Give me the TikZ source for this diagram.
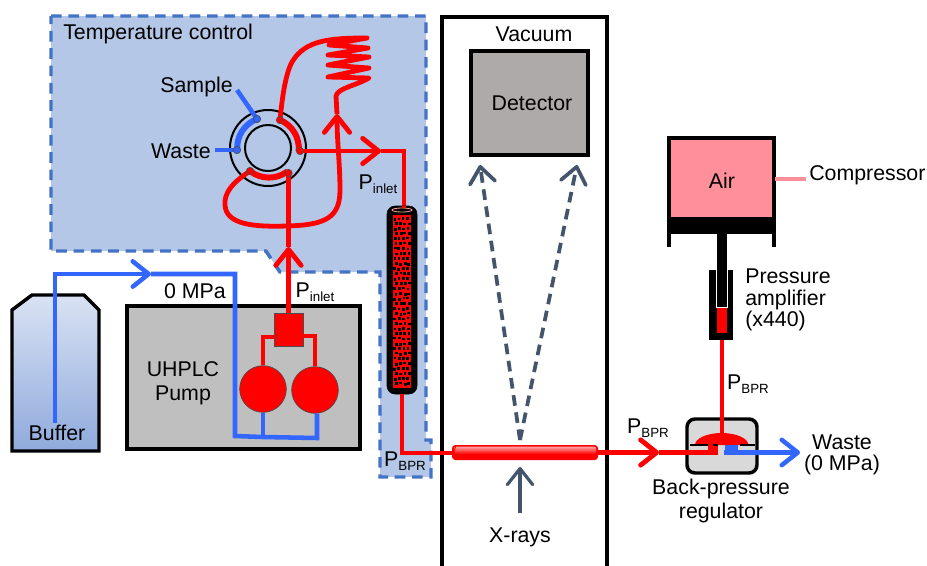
\documentclass[tikz,border=0pt]{standalone}
\usepackage{fontspec}
\setmainfont{Liberation Sans}
\usetikzlibrary{calc,arrows.meta}
\definecolor{zonefill}{HTML}{B4C7E7}
\definecolor{zoneline}{HTML}{4472C4}
\definecolor{pipeblue}{HTML}{3366FF}
\definecolor{slatearrow}{HTML}{44546A}
\definecolor{airpink}{HTML}{FF8F98}
\definecolor{bottlelight}{HTML}{D9E2F3}
\definecolor{bottledark}{HTML}{8FAADC}
\definecolor{detectorgray}{HTML}{AEAAAA}
\tikzset{
	>=latex,
	label/.style={font=\fontsize{16}{18.5}\selectfont,align=center,inner sep=0pt},
	redpipe/.style={red,line width=3.6pt},
	bluepipe/.style={pipeblue,line width=3.4pt},
	thinred/.style={red,line width=2.8pt},
	barb/.style={-{Straight Barb[length=12pt,width=19pt,round]}},
	port/.style={circle,inner sep=0pt,minimum size=5.5pt,draw=black!70,line width=.5pt},
	box/.style={draw=black,line width=2.6pt},
	raydash/.style={slatearrow,line width=2.8pt,dash pattern=on 8pt off 5pt}
}
\newcommand{\psub}[1]{P{\fontsize{10}{10}\selectfont\raisebox{-3pt}{#1}}}
\begin{document}
\begin{tikzpicture}[x=0.75pt,y=-0.75pt]
	\useasboundingbox (0,0) rectangle (927,565);
	
	% temperature control zone
	\draw[fill=zonefill,draw=zoneline,line width=2.6pt,dash pattern=on 8pt off 5pt]
	(51,16) -- (426,16) -- (426,440) -- (431,440) -- (431,477) -- (380,477)
	-- (380,272) -- (280,272) -- (266,251) -- (51,251) -- cycle;
	\node[label,anchor=west] (zonelabel) at (63,34) {Temperature control};
	
	% vacuum chamber
	\draw[black,line width=2.8pt] (442,575) -- (442,17) -- (607,17) -- (607,575);
	\draw[box,fill=detectorgray] (471,51) rectangle (588,155);
	\node[label] (detector) at (532,103) {Detector};
	\node[label] (vacuum) at (534,34) {Vacuum};
	
	% buffer bottle
	\shade[top color=bottlelight,middle color=bottlelight,bottom color=bottledark]
	(12,451) -- (12,310) -- (32,295) -- (84,295) -- (99,310) -- (99,451) -- cycle;
	\draw[box] (12,451) -- (12,310) -- (32,295) -- (84,295) -- (99,310) -- (99,451) -- cycle;
	
	% pump housing
	\draw[box,fill=black!25] (127,306) rectangle (360,449);
	\node[label,text depth=0pt] (pumplabel) at (183,381) {UHPLC\\Pump};
	
	% named points of the flow path
	\coordinate (bufferin) at (55,423);
	\coordinate (bufferup) at (55,274);
	\coordinate (buffertip) at (151,274);
	\coordinate (buffercorner) at (235,274);
	\coordinate (manifoldL) at (235,436);
	\coordinate (manifoldM) at (263,437);
	\coordinate (manifoldR) at (317,438);
	\node[circle,fill=red,draw=black!70,line width=.5pt,minimum size=35pt,inner sep=0pt] (pumpL) at (263,389) {};
	\node[circle,fill=red,draw=black!70,line width=.5pt,minimum size=35pt,inner sep=0pt] (pumpR) at (315,390) {};
	\node[rectangle,fill=red,draw=black!70,line width=.5pt,minimum width=21.75pt,minimum height=24.75pt,inner sep=0pt] (mixer) at (288.5,329.5) {};
	
	% buffer line
	\draw[bluepipe,barb] (bufferin) -- (bufferup) -- (buffertip);
	\draw[bluepipe,line join=miter] (buffertip) -- (buffercorner) -- (manifoldL) -- (manifoldM) -- (manifoldR) -- (pumpR.south -| manifoldR);
	\draw[bluepipe] (manifoldM) -- (pumpL.south);
	
	% pump outlets
	\draw[thinred] (pumpL.north) -- (263,337) -- (mixer.west |- 263,337);
	\draw[thinred] (pumpR.north) -- (315,336) -- (mixer.east |- 315,336);
	
	% injection valve
	\coordinate (valve) at (268,148);
	\coordinate (portA) at (280,120);
	\coordinate (portB) at (300,151);
	\coordinate (portC) at (257,119);
	\coordinate (portD) at (237,150);
	\coordinate (portE) at (250,171);
	\coordinate (portF) at (288.5,173);
	\draw[black,line width=1.5pt] (valve) circle[radius=38];
	\draw[black,line width=1.5pt] (valve) circle[radius=23];
	\draw[red,line width=4.5pt] (portA) arc[start angle=67,end angle=-5,radius=23.2pt];
	\draw[pipeblue,line width=4.5pt] (portC) arc[start angle=111,end angle=184,radius=23.2pt];
	\draw[red,line width=4.5pt] (portE) arc[start angle=232,end angle=307,radius=23.2pt];
	
	% red path through the valve and the loop
	\coordinate (mixertip) at (288.5,247);
	\coordinate (looptip) at (337,114);
	\coordinate (inlettip) at (381,151);
	\coordinate (columntop) at (404,208);
	\draw[redpipe,barb] (mixer.north) -- (mixertip);
	\draw[redpipe] (mixertip) -- (portF);
	\draw[redpipe,barb] (portE) .. controls (232,183) and (224,193) .. (225,205)
	.. controls (226,225) and (255,227) .. (287,226)
	.. controls (325,225) and (340,218) .. (340,190)
	.. controls (340,165) and (337,140) .. (looptip);
	% coil with round turns
	\draw[redpipe,line join=round] (looptip) -- (336,96)
	.. controls (338,88) and (355,86) .. (369,78)
	-- (328,77) -- (369,68) -- (328,65) -- (369,57) -- (328,55) -- (368,48) -- (329,45) -- (367,38)
	.. controls (330,38) and (305,40) .. (292,62)
	.. controls (285,75) and (282,100) .. (portA);
	\draw[redpipe,barb] (portB) -- (inlettip);
	\draw[redpipe] (inlettip) -- (404,151) -- (columntop);
	
	% column with packing
	\draw[black,fill=black,rounded corners=6pt] (387,206) rectangle (417,394);
	\fill[red] (393,215) rectangle (411,388);
	\draw[red!40!white,line width=.6pt] (402,210) ellipse[x radius=10,y radius=2];
	\pgfmathsetseed{11}
	\foreach \r in {0,...,33}{
		\foreach \c in {0,...,3}{
			\pgfmathsetmacro{\dotx}{393+\c*4.3+mod(\r,2)*1.5+rnd}
			\pgfmathsetmacro{\doty}{216.5+\r*5+rnd*1.5}
			\fill[black] (\dotx,\doty) rectangle ++(2.8,2.8);
		}
	}
	\draw[redpipe] (columntop) -- (404,206);
	
	% capillary and back-pressure regulator
	\coordinate (columnout) at (402,394);
	\coordinate (bprtip) at (659,452.5);
	\coordinate (bprin) at (718,452.5);
	\coordinate (wasteout) at (800,452.5);
	\draw[box,fill=black!15,rounded corners=6pt] (687,419) rectangle (757,473);
	\fill[red] (695,445) arc[start angle=180,end angle=0,x radius=20pt,y radius=9pt] -- cycle;
	\draw[redpipe] (722,340) -- (722,435);
	\draw[redpipe] (columnout) -- (402,453) -- (452,453);
	\draw[redpipe,barb] (598,452.5) -- (bprtip);
	\draw[redpipe] (bprtip) -- (bprin);
	\fill[red] (708,445) rectangle (718,455);
	\fill[pipeblue] (725,445) rectangle (738,455);
	\draw[bluepipe,barb] (724,452.5) -- (wasteout);
	\draw[black,line width=2pt] (690,445) -- (708,445);
	\draw[black,line width=2pt] (713,445) -- (718,445);
	\draw[black,line width=2pt] (740,445) -- (755,445);
	\fill[red,rounded corners=2.5pt] (452,445) rectangle (598,460);
	\shade[top color=red!35!white,bottom color=red,rounded corners=1.5pt] (454,446.5) rectangle (596,454);
	\draw[red,line width=.6pt] (456,445.5) .. controls (454,450) and (454,455) .. (456,459.5);
	
	% compressor and amplifier
	\fill[black] (667,136) rectangle (776,234);
	\fill[black] (667,234) rectangle (671,247);
	\fill[black] (772,234) rectangle (776,247);
	\fill[airpink] (671,140) rectangle (772,217);
	\fill[black] (709,270) rectangle (733,340);
	\draw[white,line width=.5pt] (716.5,270) -- (716.5,307.5) -- (727,307.5) -- (727,270);
	\fill[black] (717,233) rectangle (726.5,307);
	\fill[red] (717,308) rectangle (726.5,333);
	\node[label] (air) at (722,181) {Air};
	\coordinate (airport) at (775,179);
	\node[label,anchor=west] (compressor) at (809,175) {Compressor};
	\draw[airpink,line width=2.6pt] (airport) -- (806,179);
	
	% sample and waste leads
	\node[label,anchor=east] (sample) at (233,87) {Sample};
	\node[label,anchor=east] (wastein) at (211,151) {Waste};
	\draw[bluepipe] (237,90) -- (portC);
	\draw[bluepipe] (215,150) -- (portD);
	\foreach \p in {portA,portB,portE,portF}
		\node[port,fill=red] at (\p) {};
	\foreach \p in {portC,portD}
		\node[port,fill=pipeblue] at (\p) {};
	
	% x-ray beam
	\coordinate (sampleposition) at (520,440);
	\coordinate (rayleft) at (480,165);
	\coordinate (rayright) at (577,165);
	\node[label] (xrays) at (520,537) {X-rays};
	\draw[raydash,barb] (sampleposition) -- (rayleft);
	\draw[raydash,barb] (sampleposition) -- (rayright);
	\draw[slatearrow,line width=2.4pt,barb] (520,513) -- (520,467);
	
	% remaining labels
	\node[label] (buffer) at (57,433) {Buffer};
	\node[label] (zeroMPa) at (195,291) {0 MPa};
	\node[label] (pinletA) at (315,292) {\psub{inlet}};
	\node[label] (pinletB) at (378,184) {\psub{inlet}};
	\node[label] (pbprA) at (405,461) {\psub{BPR}};
	\node[label] (pbprB) at (648,428) {\psub{BPR}};
	\node[label] (pbprC) at (748,384) {\psub{BPR}};
	\node[label,anchor=west,align=left] (amplifier) at (745,300) {Pressure\\[-2.3pt]amplifier\\[-2.3pt](x440)};
	\node[label] (wasteoutlabel) at (842,455) {Waste\\[-2.5pt](0 MPa)};
	\node[label] (bprlabel) at (721,501) {Back-pressure\\[-1pt]regulator};
\end{tikzpicture}
\end{document}
